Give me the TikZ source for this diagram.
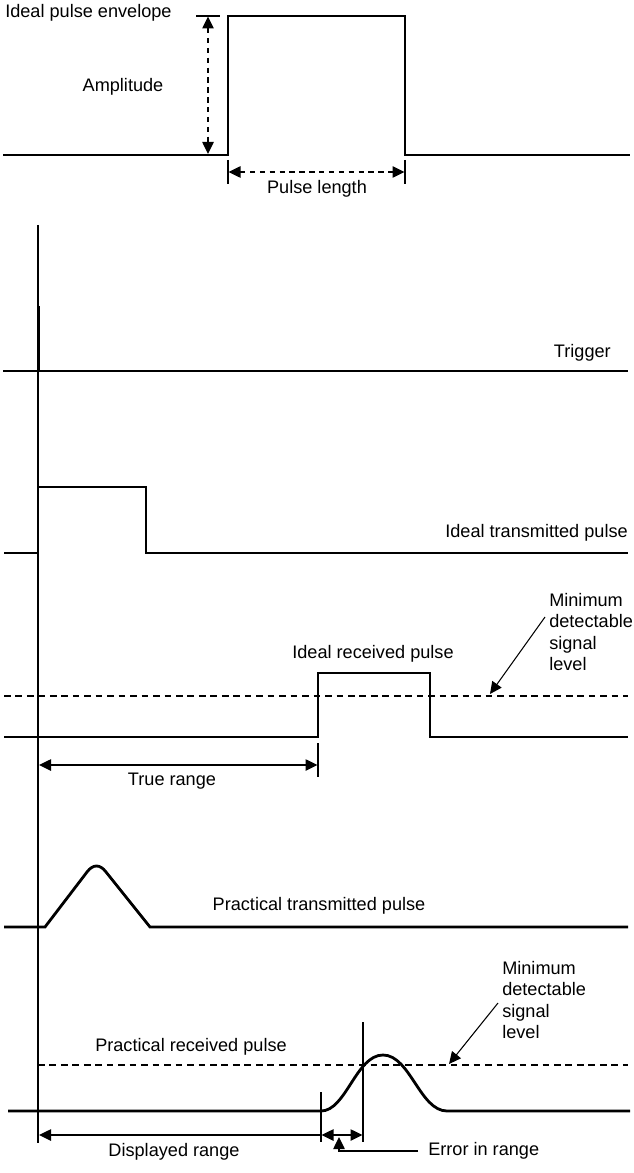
\documentclass[tikz,border=0pt]{standalone}
\usepackage{fontspec}
\setmainfont{Liberation Sans}
\usetikzlibrary{arrows.meta}
\begin{document}
\begin{tikzpicture}[x=0.75pt,y=-0.75pt,
  sig/.style={line width=2.1pt, line join=miter},
  thinline/.style={line width=0.8pt},
  dashline/.style={line width=0.8pt, dash pattern=on 5pt off 3.6pt},
  dimarrow/.style={line width=1.1pt, dash pattern=on 4pt off 3.4pt},
  lbl/.style={font=\fontsize{13.6}{16.2}\selectfont, inner sep=0pt},
  tipR/.style={-{Triangle[length=9pt,width=8.5pt]}},
  tipB/.style={{Triangle[length=9pt,width=8.5pt]}-{Triangle[length=9pt,width=8.5pt]}},
  tipL/.style={{Triangle[length=9pt,width=8.5pt]}-}]
\useasboundingbox (0,0) rectangle (633,1173);

% ---------- Ideal pulse envelope ----------
\draw[sig] (3,155) -- (228,155) -- (228,16) -- (405,16) -- (405,155) -- (630,155);
\node[lbl, anchor=west] (envl) at (5,13) {Ideal pulse envelope};
\node[lbl] (ampl) at (123,87) {Amplitude};
\draw[thinline] (196,16) -- (220,16);
\coordinate (atop) at (208,16.5);
\coordinate (abot) at (208,154);
\draw[dimarrow, tipB] (atop) -- (abot);
\draw[thinline] (228,160) -- (228,184);
\draw[thinline] (405,160) -- (405,184);
\coordinate (pl1) at (228.5,172);
\coordinate (pl2) at (404.5,172);
\draw[dimarrow, tipB] (pl1) -- (pl2);
\node[lbl] (plen) at (317,189) {Pulse length};

% ---------- time reference line ----------
\draw[thinline] (38,225) -- (38,1143);

% ---------- Trigger ----------
\draw[sig] (3,371) -- (628,371);
\draw[sig] (38.5,306) -- (38.5,371);
\node[lbl, anchor=east] (trig) at (611,353) {Trigger};

% ---------- Ideal transmitted pulse ----------
\draw[sig] (4,553) -- (38,553) -- (38,487) -- (146,487) -- (146,553) -- (628,553);
\node[lbl, anchor=east] (itp) at (628,533) {Ideal transmitted pulse};

% ---------- Ideal received pulse ----------
\draw[dashline] (4,696) -- (628,696);
\draw[sig] (4,737) -- (318,737) -- (318,673) -- (430,673) -- (430,737) -- (628,737);
\node[lbl] (irp) at (373,654) {Ideal received pulse};
\node[lbl, anchor=west, align=left] (mds1) at (549,632) {Minimum\\detectable\\signal\\level};
\coordinate (m1s) at (545,617);
\coordinate (m1e) at (490,694);
\draw[thinline, tipR] (m1s) -- (m1e);
\draw[thinline] (318,743) -- (318,777);
\coordinate (tr1) at (39,765);
\coordinate (tr2) at (317.5,765);
\draw[line width=1.1pt, tipB] (tr1) -- (tr2);
\node[lbl] (trng) at (172,781) {True range};

% ---------- Practical transmitted pulse ----------
\draw[sig] (4,927) -- (45,927) -- (87,872) .. controls (93,864) and (100,864) .. (106,872) -- (150,927) -- (628,927);
\node[lbl] (ptp) at (319,906) {Practical transmitted pulse};

% ---------- Practical received pulse ----------
\draw[dashline] (38,1065) -- (628,1065);
\draw[sig] (8,1111) -- (321,1111) .. controls (346,1111) and (356,1055) .. (383,1055) .. controls (410,1055) and (420,1111) .. (447,1111) -- (630,1111);
\node[lbl] (prp) at (191,1047) {Practical received pulse};
\node[lbl, anchor=west, align=left] (mds2) at (502,1000) {Minimum\\detectable\\signal\\level};
\coordinate (m2s) at (498,1003);
\coordinate (m2e) at (449,1064);
\draw[thinline, tipR] (m2s) -- (m2e);
\draw[thinline] (363,1022) -- (363,1142);
\draw[thinline] (321,1092) -- (321,1142);
\coordinate (dr1) at (39,1135);
\coordinate (dr2) at (321,1135);
\draw[line width=1.1pt, tipL] (dr1) -- (dr2);
\node[lbl] (drng) at (174,1152) {Displayed range};
\coordinate (er1) at (321.5,1135);
\coordinate (er2) at (362.5,1135);
\draw[line width=1.1pt, tipB] (er1) -- (er2);
\node[lbl, anchor=west] (err) at (428,1151) {Error in range};
\coordinate (erA) at (418,1151);
\coordinate (erB) at (339,1151);
\coordinate (erC) at (339,1137);
\draw[line width=1.1pt, tipR] (erA) -- (erB) -- (erC);
\end{tikzpicture}
\end{document}
